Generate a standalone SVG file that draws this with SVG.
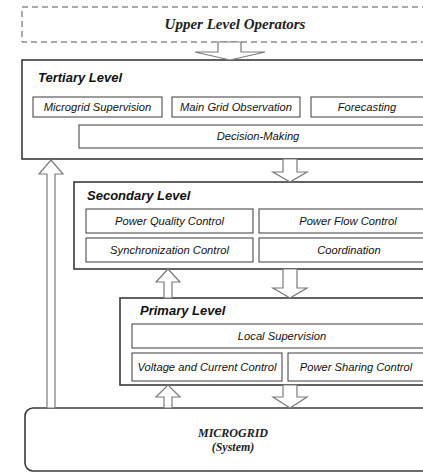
<svg xmlns="http://www.w3.org/2000/svg" width="423" height="473" viewBox="0 0 423 473">
  <style>
    .lvl { fill: #fff; stroke: #3a3a3a; stroke-width: 1.6; }
    .sub { fill: #fff; stroke: #3a3a3a; stroke-width: 1; }
    .dash { fill: #fff; stroke: #555; stroke-width: 1; stroke-dasharray: 6 4; }
    .arrow { fill: #fff; stroke: #7a7a7a; stroke-width: 1.2; stroke-linejoin: miter; }
    .serif { font-family: "Liberation Serif", "Times New Roman", serif; font-weight: bold; font-style: italic; fill: #222; text-anchor: middle; }
    .title { font-family: "Liberation Sans", Arial, sans-serif; font-weight: bold; font-style: italic; font-size: 13px; fill: #111; }
    .item { font-family: "Liberation Sans", Arial, sans-serif; font-style: italic; font-size: 11.2px; fill: #111; text-anchor: middle; }
  </style>
  <rect width="423" height="473" fill="#fff"/>

  <g id="upper-operators">
    <rect class="dash" x="22" y="7" width="420" height="35"/>
    <text class="serif" x="235" y="29" font-size="15">Upper Level Operators</text>
  </g>

  <g id="tertiary-level">
    <rect class="lvl" x="22" y="60" width="420" height="99"/>
    <text class="title" x="38" y="82">Tertiary Level</text>
    <rect class="sub" x="33" y="97" width="129" height="20"/>
    <text class="item" x="97.5" y="111">Microgrid Supervision</text>
    <rect class="sub" x="172" y="97" width="128" height="20"/>
    <text class="item" x="236" y="111">Main Grid Observation</text>
    <rect class="sub" x="311" y="97" width="120" height="20"/>
    <text class="item" x="367" y="111">Forecasting</text>
    <rect class="sub" x="79" y="125" width="352" height="23"/>
    <text class="item" x="258" y="140">Decision-Making</text>
  </g>

  <g id="secondary-level">
    <rect class="lvl" x="74" y="182" width="368" height="87"/>
    <text class="title" x="87" y="200">Secondary Level</text>
    <rect class="sub" x="86" y="209" width="167" height="24"/>
    <text class="item" x="169.5" y="225">Power Quality Control</text>
    <rect class="sub" x="259" y="209" width="172" height="24"/>
    <text class="item" x="348" y="225">Power Flow Control</text>
    <rect class="sub" x="86" y="238" width="167" height="24"/>
    <text class="item" x="169.5" y="254">Synchronization Control</text>
    <rect class="sub" x="259" y="238" width="172" height="24"/>
    <text class="item" x="349" y="254">Coordination</text>
  </g>

  <g id="primary-level">
    <rect class="lvl" x="120" y="298" width="322" height="87"/>
    <text class="title" x="140" y="315">Primary Level</text>
    <rect class="sub" x="132" y="324" width="299" height="24"/>
    <text class="item" x="282" y="340">Local Supervision</text>
    <rect class="sub" x="132" y="353" width="150" height="28"/>
    <text class="item" x="207" y="371">Voltage and Current Control</text>
    <rect class="sub" x="288" y="353" width="143" height="28"/>
    <text class="item" x="356" y="371">Power Sharing Control</text>
  </g>

  <g id="microgrid">
    <rect class="lvl" x="25" y="408" width="430" height="63" rx="8"/>
    <text class="serif" x="233" y="437" font-size="12">MICROGRID</text>
    <text class="serif" x="233" y="451" font-size="12">(System)</text>
  </g>

  <g id="connectors">
    <!-- operators down to tertiary -->
    <polygon class="arrow" points="218,42 241,42 241,52 265,52 230,60 195,52 218,52"/>
    <!-- tertiary down to secondary -->
    <polygon class="arrow" points="283,159 297,159 297,172 307,172 290,182 273,172 283,172"/>
    <!-- secondary down to primary -->
    <polygon class="arrow" points="283,269 297,269 297,288 307,288 290,298 273,288 283,288"/>
    <!-- primary down to microgrid -->
    <polygon class="arrow" points="283,385 297,385 297,397 307,397 290,408 273,397 283,397"/>
    <!-- microgrid up to primary -->
    <polygon class="arrow" points="164,408 172,408 172,397 180,397 168,385 156,397 164,397"/>
    <!-- primary up to secondary -->
    <polygon class="arrow" points="164,298 172,298 172,282 180,282 168,269 156,282 164,282"/>
    <!-- microgrid up to tertiary -->
    <polygon class="arrow" points="47,408 55,408 55,174 63,174 51,160 39,174 47,174"/>
  </g>
</svg>
